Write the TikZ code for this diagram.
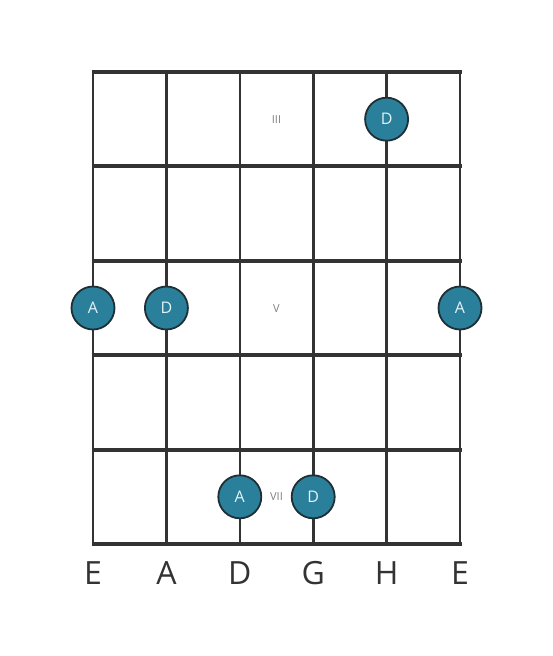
\documentclass[tikz,border=0pt]{standalone}
\usepackage{fontspec}
\setmainfont{Open Sans}
\usepackage{xcolor}
\usetikzlibrary{positioning, calc}
\definecolor{fretgray}{HTML}{333333}
\definecolor{dotteal}{HTML}{2A7F9B}
\definecolor{dotrim}{HTML}{1F2F36}
\definecolor{dottext}{HTML}{E4F3F8}

\begin{document}
\begin{tikzpicture}[x=1pt, y=-1pt,
    dot/.style={circle, fill=dotteal, draw=dotrim, line width=1.8pt, minimum size=43pt, inner sep=0pt, text=dottext, font=\fontsize{16}{16}\selectfont},
    fretlabel/.style={text=gray, font=\fontsize{11}{11}\selectfont},
    stringlabel/.style={text=fretgray, font=\fontsize{32}{32}\selectfont}]
      \useasboundingbox (0,0) rectangle (553,656);
      % strings
      \foreach \s/\x in {1/93, 2/166.4, 3/239.8, 4/313.2, 5/386.6, 6/460}
        \draw[fretgray, line width=2.6pt] (\x,72) -- (\x,544);
      % frets
      \foreach \f/\y in {0/72, 1/166.4, 2/260.8, 3/355.2, 4/449.6, 5/544}
        \draw[fretgray, line width=4pt] (91.5,\y) -- (461.5,\y);

      \node[fretlabel] (III) at (276.5,120) {III};
      \node[fretlabel] (V) at (276.5,309) {V};
      \node[fretlabel] (VII) at (276.5,497) {VII};

      \node[dot] (d1) at (386.6,119.2) {D};
      \node[dot] (a1) at (93,308) {A};
      \node[dot] (d2) at (166.4,308) {D};
      \node[dot] (a2) at (460,308) {A};
      \node[dot] (a3) at (239.8,496.8) {A};
      \node[dot] (d3) at (313.2,496.8) {D};

      \foreach \n/\x/\t in {e1/93/E, a/166.4/A, d/239.8/D, g/313.2/G, h/386.6/H, e2/460/E}
        \node[stringlabel] (\n) at (\x,573) {\t};
    \end{tikzpicture}
\end{document}
